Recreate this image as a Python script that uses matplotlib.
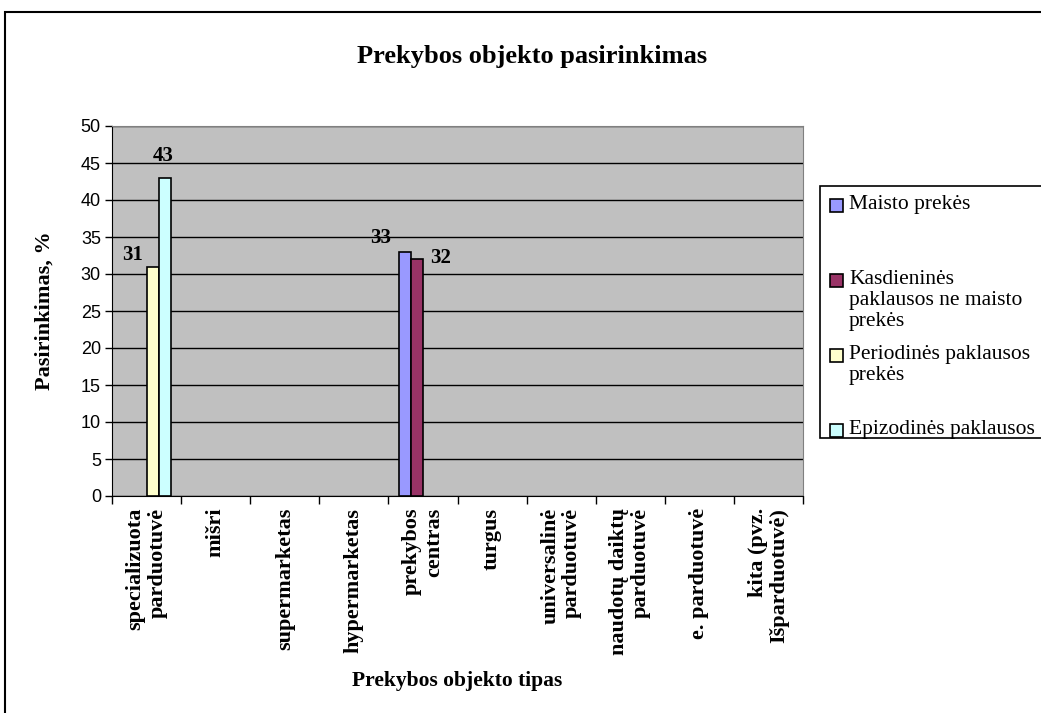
import numpy as np
import matplotlib
matplotlib.use("Agg")
import matplotlib.pyplot as plt
from matplotlib.patches import Rectangle

# chart data
categories = ["specializuota\nparduotuvė", "mišri", "supermarketas", "hypermarketas",
              "prekybos\ncentras", "turgus", "universalinė\nparduotuvė",
              "naudotų daiktų\nparduotuvė", "e. parduotuvė", "kita (pvz.\nIšparduotuvė)"]
series_names = ["Maisto prekės", "Kasdieninės\npaklausos ne maisto\nprekės",
                "Periodinės paklausos\nprekės", "Epizodinės paklausos"]
maisto = [0, 0, 0, 0, 33, 0, 0, 0, 0, 0]
kasdienines = [0, 0, 0, 0, 32, 0, 0, 0, 0, 0]
periodines = [31, 0, 0, 0, 0, 0, 0, 0, 0, 0]
epizodines = [43, 0, 0, 0, 0, 0, 0, 0, 0, 0]
colors = ["#9999FF", "#993366", "#FFFFCC", "#CCFFFF"]

W, H = 1041, 713
serif = "Liberation Serif"
sans = "Liberation Sans"

fig = plt.figure(figsize=(W / 100, H / 100), dpi=100)
fig.patch.set_facecolor("white")

def fx(px):
    return px / W

def fy(py):
    return 1 - py / H

# outer chart border (cut off on the right and bottom)
fig.add_artist(Rectangle((fx(5), -0.05), 1.1, fy(12) + 0.05, transform=fig.transFigure,
                         fill=False, edgecolor="black", linewidth=1.5))

ax = fig.add_axes([fx(112), fy(496), fx(803) - fx(112), fy(126) - fy(496)])
ax.set_facecolor("#C0C0C0")

x = np.arange(len(categories))
w = 0.175
all_series = [maisto, kasdienines, periodines, epizodines]
for i, vals in enumerate(all_series):
    h = np.array(vals, dtype=float)
    h[h == 0] = np.nan  # empty values: nothing drawn, like in Excel
    ax.bar(x + (i - 1.5) * w, h, width=w, color=colors[i],
           edgecolor="black", linewidth=1.2, zorder=3)

ax.set_xlim(-0.5, len(categories) - 0.5)
ax.set_ylim(0, 50)
ax.set_yticks(np.arange(0, 51, 5))
ax.yaxis.grid(True, color="black", linewidth=1)
ax.set_axisbelow(True)
for lab in ax.get_yticklabels():
    lab.set_fontfamily(sans)
    lab.set_fontsize(13)
ax.tick_params(axis="y", length=5, width=1, direction="out", pad=3)

# ticks between categories, labels at centres
ax.set_xticks(np.arange(-0.5, len(categories) + 0.5, 1))
ax.set_xticklabels([])
ax.tick_params(axis="x", length=6, width=1, direction="out")
for xi, name in zip(x, categories):
    ax.text(xi, -1.6, name, rotation=90, ha="center", va="top", multialignment="right",
            fontfamily=serif, fontweight="bold", fontsize=16, linespacing=1.12)

ax.spines["left"].set_color("black")
ax.spines["bottom"].set_color("black")
ax.spines["top"].set_color("#808080")
ax.spines["right"].set_color("#808080")

# data labels
label_offsets = {(2, 0): (-20, 12), (3, 0): (-2, 22), (0, 4): (-24, 14), (1, 4): (24, 1)}
for (si, ci), (dx, dy) in label_offsets.items():
    v = all_series[si][ci]
    xc = x[ci] + (si - 1.5) * w
    ax.annotate(str(v), xy=(xc, v), xytext=(dx, dy), textcoords="offset pixels",
                ha="center", va="center", fontfamily=serif, fontweight="bold", fontsize=15)

fig.text(fx(532), fy(57), "Prekybos objekto pasirinkimas", ha="center", va="center",
         fontfamily=serif, fontweight="bold", fontsize=19)
fig.text(fx(45), fy(311), "Pasirinkimas, %", rotation=90, ha="center", va="center",
         fontfamily=serif, fontweight="bold", fontsize=16)
fig.text(fx(457), fy(681), "Prekybos objekto tipas", ha="center", va="center",
         fontfamily=serif, fontweight="bold", fontsize=15.5)

# legend box, cut off at the right edge
fig.add_artist(Rectangle((fx(820), fy(438)), 0.3, fy(186) - fy(438), transform=fig.transFigure,
                         facecolor="white", edgecolor="black", linewidth=1.2))
legend_rows = [205, 280, 355, 430]
for name, c, yr in zip(series_names, colors, legend_rows):
    fig.add_artist(Rectangle((fx(830), fy(yr + 7)), fx(13), fy(yr - 6) - fy(yr + 7),
                             transform=fig.transFigure, facecolor=c, edgecolor="black",
                             linewidth=1.2))
    fig.text(fx(849), fy(yr - 10), name, ha="left", va="top", fontfamily=serif,
             fontsize=15.5, linespacing=1.15)

fig.savefig("out.png", dpi=100)
